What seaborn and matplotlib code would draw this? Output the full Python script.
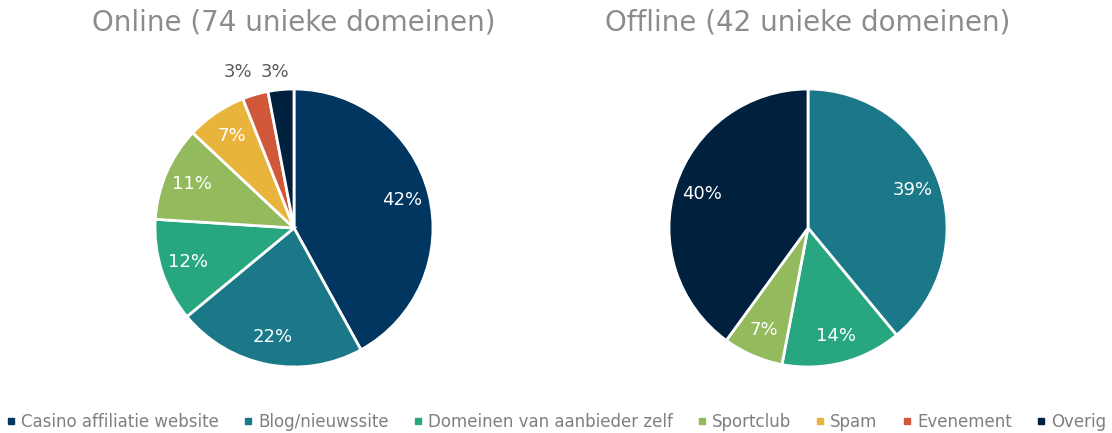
import numpy as np
import pandas as pd
import seaborn as sns
import matplotlib.pyplot as plt
from matplotlib.lines import Line2D

categories = ["Casino affiliatie website", "Blog/nieuwssite", "Domeinen van aanbieder zelf",
              "Sportclub", "Spam", "Evenement", "Overig"]
online = [42, 22, 12, 11, 7, 3, 3]
offline = [0, 39, 14, 7, 0, 0, 40]
titles = ["Online (74 unieke domeinen)", "Offline (42 unieke domeinen)"]
colors = ["#003660", "#1B7889", "#28A67F", "#93BA5D", "#E8B43C", "#D1573A", "#00213D"]

sns.set_theme(style="white")
plt.rcParams['font.family'] = ['DejaVu Sans']
palette = dict(zip(categories, sns.color_palette(colors)))

df = pd.DataFrame({"categorie": categories, "Online": online, "Offline": offline})

fig = plt.figure(figsize=(11.12, 4.33), dpi=100)
W, H = 1112, 433
centers = [294, 808]
r = 139

for cx, col, title in zip(centers, ["Online", "Offline"], titles):
    ax = fig.add_axes([(cx - r) / W, (H - 228 - r) / H, 2 * r / W, 2 * r / H])
    sub = df[df[col] > 0]
    wedges, texts, autotexts = ax.pie(
        sub[col], colors=[palette[c] for c in sub["categorie"]],
        startangle=90, counterclock=False, autopct="%1.0f%%", pctdistance=0.8,
        wedgeprops=dict(edgecolor="white", linewidth=2),
        textprops=dict(color="white", fontsize=13))
    for w, t, v in zip(wedges, autotexts, sub[col]):
        if v < 5:
            # small slices: label outside the pie, on one line above it
            ang = np.deg2rad((w.theta1 + w.theta2) / 2)
            t.set_position((1.45 * np.cos(ang), 1.12))
            t.set_color("#595959")
    ax.set_xlim(-1, 1)
    ax.set_ylim(-1, 1)
    ax.set_aspect("equal")
    ax.axis("off")
    fig.text(cx / W, 1 - 23 / H, title, ha="center", va="center", fontsize=20, color="#8c8c8c")

handles = [Line2D([], [], marker="s", linestyle="none", markersize=5, color=palette[c]) for c in categories]
fig.legend(handles, categories, loc="center", bbox_to_anchor=(0.5, 1 - 422 / H), ncol=7,
           frameon=False, fontsize=12, labelcolor="#7f7f7f", handlelength=0.6,
           handletextpad=0.3, columnspacing=1.45)

fig.savefig("out.png", dpi=100)
